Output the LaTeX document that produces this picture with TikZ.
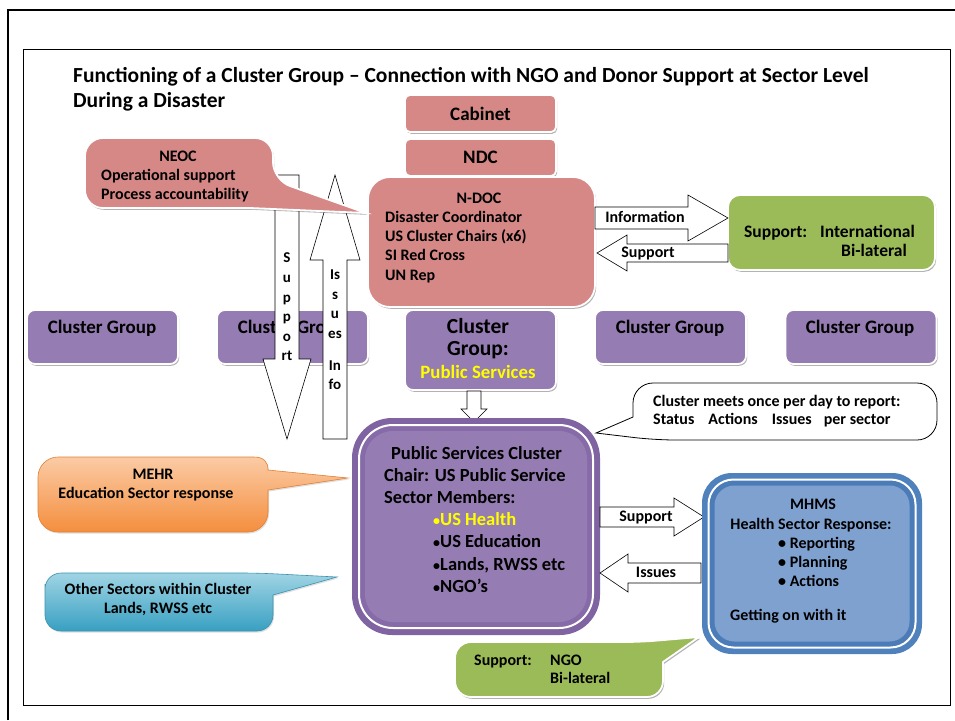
\documentclass[tikz,border=0pt]{standalone}
\usepackage{fontspec}
\setmainfont{Carlito}
\usetikzlibrary{shadows,calc}
\definecolor{pinkf}{RGB}{213,136,134}
\definecolor{purpf}{RGB}{149,124,178}
\definecolor{purpd}{RGB}{128,100,162}
\definecolor{purpb}{RGB}{134,107,168}
\definecolor{greenf}{RGB}{155,187,89}
\definecolor{bluef}{RGB}{127,161,208}
\definecolor{blued}{RGB}{79,129,189}
\definecolor{bluem}{RGB}{76,124,184}
\definecolor{orangeL}{RGB}{251,203,165}
\definecolor{orangeD}{RGB}{244,142,62}
\definecolor{orangeE}{RGB}{226,128,50}
\definecolor{tealL}{RGB}{160,212,228}
\definecolor{tealD}{RGB}{56,160,194}
\definecolor{tealE}{RGB}{60,145,175}
\definecolor{yel}{RGB}{255,255,0}

\newcommand\hblock[5]{%
 \draw[blk] let \p1=(#1), \p2=(#2), \n1={sign(\x2-\x1)} in
  (\x1,{\y1+#3pt}) -- ({\x2-\n1*#5pt},{\y1+#3pt}) -- ({\x2-\n1*#5pt},{\y1+#4pt}) -- (\x2,\y1)
  -- ({\x2-\n1*#5pt},{\y1-#4pt}) -- ({\x2-\n1*#5pt},{\y1-#3pt}) -- (\x1,{\y1-#3pt}) -- cycle;}
\newcommand\vblock[5]{%
 \draw[blk] let \p1=(#1), \p2=(#2), \n1={sign(\y2-\y1)} in
  ({\x1+#3pt},\y1) -- ({\x1+#3pt},{\y2-\n1*#5pt}) -- ({\x1+#4pt},{\y2-\n1*#5pt}) -- (\x1,\y2)
  -- ({\x1-#4pt},{\y2-\n1*#5pt}) -- ({\x1-#3pt},{\y2-\n1*#5pt}) -- ({\x1-#3pt},\y1) -- cycle;}
\newcommand\smbul{{\fontsize{14}{14}\selectfont •}}

\begin{document}
\begin{tikzpicture}[x=1pt,y=-1pt,
  font=\bfseries\fontsize{16}{19}\selectfont,
  every node/.style={inner sep=0pt},
  t/.style={text height=11.5pt,text depth=3.5pt},
  bigf/.style={font=\bfseries\fontsize{19}{22}\selectfont},
  psf/.style={font=\bfseries\fontsize{18.5}{22}\selectfont},
  intf/.style={font=\bfseries\fontsize{17.5}{21}\selectfont},
  blk/.style={draw=black, fill=white, line width=0.6pt},
  glow/.style={draw=white, line width=1.8pt, drop shadow={shadow xshift=1.2pt, shadow yshift=-1.8pt, opacity=0.3, fill=black}},
  pbox/.style={glow, fill=pinkf, rounded corners=5pt},
  cbox/.style={glow, fill=purpf, rounded corners=8pt, minimum width=151pt, minimum height=54pt},
 ]
\useasboundingbox (0,0) rectangle (955,720);
\fill[white] (0,0) rectangle (955,720);

% frame
\draw[line width=2.2pt] (8,720) -- (8,10) -- (955,10);
\draw[line width=0.8pt] (23,49) rectangle (950,705);

% title
\node[anchor=west, t, font=\bfseries\fontsize{21.5}{25}\selectfont] (title1) at (73,78) {Functioning of a Cluster Group – Connection with NGO and Donor Support at Sector Level};
\node[anchor=west, t, font=\bfseries\fontsize{21.5}{25}\selectfont] (title2) at (73,103) {During a Disaster};

% top pink boxes
\node[pbox, minimum width=151pt, minimum height=37pt, bigf] (cab) at (480.5,113.5) {Cabinet};
\node[pbox, minimum width=151pt, minimum height=37pt, bigf] (ndc) at (480.5,157.5) {NDC};
\node[pbox, rounded corners=22pt, minimum width=227pt, minimum height=130pt] (ndoc) at (481.5,242) {};
\node[t] (ndoc0) at (479,199) {N-DOC};
\node[t, anchor=west] (ndoc1) at (385,218) {Disaster Coordinator};
\node[t, anchor=west] (ndoc2) at (385,237) {US Cluster Chairs (x6)};
\node[t, anchor=west] (ndoc3) at (385,256) {SI Red Cross};
\node[t, anchor=west] (ndoc4) at (385,276) {UN Rep};

% international support
\node[glow, fill=greenf, rounded corners=12pt, minimum width=207pt, minimum height=75pt] (intl) at (831.5,232.5) {};
\node[t, intf, anchor=west] (intl1) at (744,233) {Support:\hspace{13pt}International};
\node[t, intf, anchor=west] (intl2) at (841,252) {Bi-lateral};

\coordinate (infoA) at (595,218);
\coordinate (infoB) at (728,218);
\hblock{infoA}{infoB}{11}{23}{40}
\node[t] (infol) at (645,218) {Information};
\coordinate (supA) at (728,253);
\coordinate (supB) at (597,253);
\hblock{supA}{supB}{9}{18}{30}
\node[t] (supl) at (648,253) {Support};

% cluster groups
\node[cbox] (cg1) at (102.5,337) {};
\node[t, bigf] (cg1t) at (102,329) {Cluster Group};
\node[cbox] (cg2) at (292.5,337) {};
\node[t, bigf] (cg2t) at (292,329) {Cluster Group};
\node[cbox] (cg4) at (670.5,337) {};
\node[t, bigf] (cg4t) at (670,329) {Cluster Group};
\node[cbox] (cg5) at (861,337) {};
\node[t, bigf] (cg5t) at (860,329) {Cluster Group};
\node[cbox, minimum height=80pt] (cg3) at (480.5,350) {};
\node[t, font=\bfseries\fontsize{21.5}{25}\selectfont] (cg3a) at (478,329) {Cluster};
\node[t, font=\bfseries\fontsize{21.5}{25}\selectfont] (cg3b) at (478,351) {Group:};
\node[t, font=\bfseries\fontsize{18.8}{22}\selectfont, text=yel] (cg3c) at (478,374) {Public Services};

% vertical arrows
\coordinate (sdA) at (287,175);
\coordinate (sdB) at (287,439);
\vblock{sdA}{sdB}{12}{24}{80}
\node[align=center, font=\bfseries\fontsize{15}{19.6}\selectfont] (sdl) at (287,307) {S\\u\\p\\p\\o\\rt};
\coordinate (iuA) at (335,439);
\coordinate (iuB) at (335,175);
\vblock{iuA}{iuB}{12}{25}{85}
\node[align=center, font=\bfseries\fontsize{15}{19.5}\selectfont] (iul1) at (335,304) {Is\\s\\u\\es};
\node[align=center, font=\bfseries\fontsize{15}{19.5}\selectfont] (iul2) at (335,375) {In\\fo};

% NEOC callout
\path[glow, fill=pinkf] [rounded corners=18pt] (85,170) -- (85,138) -- (273,138) -- (273,180) [sharp corners] -- (366,213) -- (250,208) [rounded corners=18pt] -- (85,208) -- cycle;
\node[t] (neoc0) at (178,157) {NEOC};
\node[t, anchor=west] (neoc1) at (101,176) {Operational support};
\node[t, anchor=west] (neoc2) at (101,195) {Process accountability};

% small arrow
\coordinate (smA) at (474,391);
\coordinate (smB) at (474,422);
\vblock{smA}{smB}{7}{13}{13}

% cluster meets callout
\path[draw=black, line width=0.8pt, fill=white] [rounded corners=20pt] (785,383) -- (937,383) -- (937,440) -- (655,440) [sharp corners] -- (596,433) -- (633,417) [rounded corners=20pt] -- (633,383) -- cycle;
\node[t, anchor=west] (cm1) at (653,402) {Cluster meets once per day to report:};
\node[t, anchor=west] (cm2) at (653,420) {Status\hspace{14pt}Actions\hspace{14pt}Issues\hspace{12pt}per sector};

% public services cluster
\node[fill=purpd, rounded corners=40pt, minimum width=248pt, minimum height=217pt] (psc) at (476,526.5) {};
\node[fill=purpb, draw=white, line width=2pt, rounded corners=34pt, minimum width=234pt, minimum height=203pt] (psc2) at (psc) {};
\node[fill=purpf, rounded corners=28pt, minimum width=222pt, minimum height=191pt] (psc3) at (psc) {};
\node[t, psf] (ps0) at (476.5,455) {Public Services Cluster};
\node[t, psf, anchor=west] (ps1) at (384,477) {Chair: US Public Service};
\node[t, psf, anchor=west] (ps2) at (384,499) {Sector Members:};
\node[t, psf, anchor=west, text=yel] (ps3) at (433,521) {\smbul US Health};
\node[t, psf, anchor=west] (ps4) at (433,543) {\smbul US Education};
\node[t, psf, anchor=west] (ps5) at (433,566) {\smbul Lands, RWSS etc};
\node[t, psf, anchor=west] (ps6) at (433,588) {\smbul NGO’s};

% MEHR callout
\path[draw=orangeE, line width=0.6pt, top color=orangeL, bottom color=orangeD, drop shadow={shadow xshift=1pt, shadow yshift=-1.5pt, opacity=0.25}]
  (38,477) .. controls (38,466) and (47,457) .. (58,457) -- (254,457)
  .. controls (264,457) and (268,462) .. (268,470) -- (348,478) -- (268,490) -- (268,512)
  .. controls (268,523) and (259,532) .. (248,532) -- (58,532)
  .. controls (47,532) and (38,523) .. (38,512) -- cycle;
\node[t] (mehr0) at (153,475) {MEHR};
\node[t] (mehr1) at (146,494) {Education Sector response};

% other sectors callout
\path[draw=tealE, line width=0.6pt, top color=tealL, bottom color=tealD, drop shadow={shadow xshift=1pt, shadow yshift=-1.5pt, opacity=0.25}]
  [rounded corners=16pt] (45,600) -- (45,573) -- (258,573) [sharp corners] -- (337,577) -- (273,595) [rounded corners=16pt] -- (273,631) -- (45,631) -- cycle;
\node[t] (oth0) at (158,590) {Other Sectors within Cluster};
\node[t] (oth1) at (158,609) {Lands, RWSS etc};

% support / issues arrows
\coordinate (srA) at (600,517);
\coordinate (srB) at (704,517);
\hblock{srA}{srB}{10}{19}{30}
\node[t] (srl) at (646,517) {Support};
\coordinate (ilA) at (701,573);
\coordinate (ilB) at (600,573);
\hblock{ilA}{ilB}{10}{19}{28}
\node[t] (ill) at (656,573) {Issues};

% MHMS
\node[fill=blued, rounded corners=30pt, minimum width=220pt, minimum height=181pt] (mhms) at (812,563.5) {};
\node[fill=bluem, draw=white, line width=2pt, rounded corners=25pt, minimum width=207pt, minimum height=168pt] (mhms2) at (mhms) {};
\node[fill=bluef, rounded corners=20pt, minimum width=195pt, minimum height=156pt] (mhms3) at (mhms) {};
\node[t] (mh0) at (813,505) {MHMS};
\node[t] (mh1) at (811,525) {Health Sector Response:};
\node[t, anchor=west] (mh2) at (778,544) {• Reporting};
\node[t, anchor=west] (mh3) at (778,563) {• Planning};
\node[t, anchor=west] (mh4) at (778,582) {• Actions};
\node[t, anchor=west] (mh5) at (730,616) {Getting on with it};

% NGO callout
\path[glow, fill=greenf] [rounded corners=16pt] (455,670) -- (455,642) -- (640,642) [sharp corners] -- (699,637) -- (663,662) [rounded corners=16pt] -- (663,697) -- (455,697) -- cycle;
\node[t, anchor=west] (ngo0) at (474,661) {Support:};
\node[t, anchor=west] (ngo1) at (550,661) {NGO};
\node[t, anchor=west] (ngo2) at (550,679) {Bi-lateral};
\end{tikzpicture}
\end{document}
